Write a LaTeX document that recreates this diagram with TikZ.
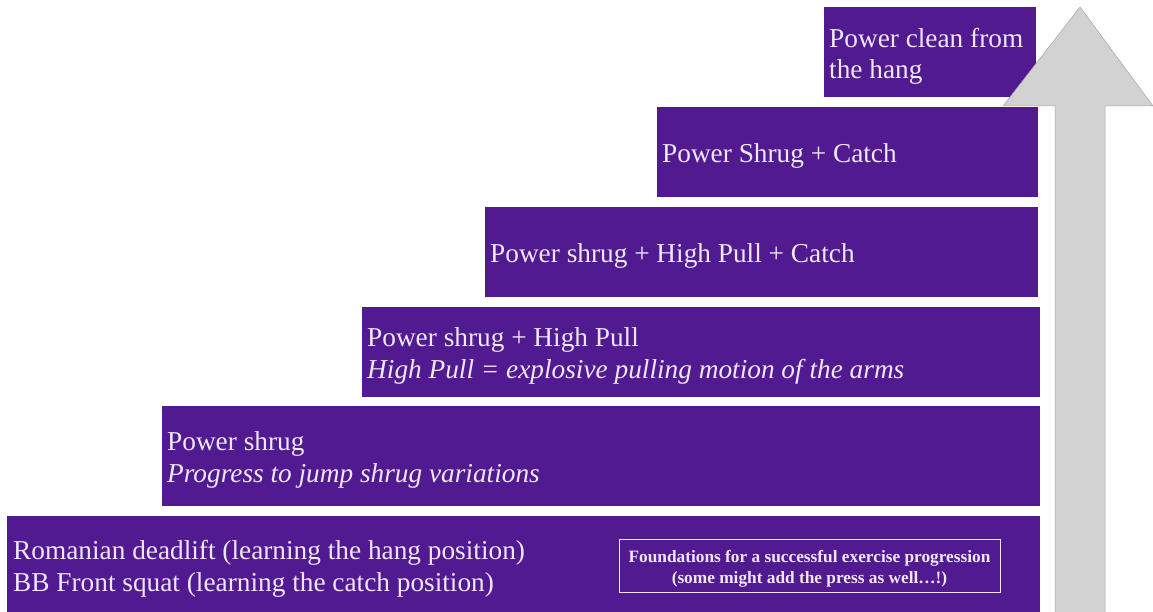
\documentclass[tikz,border=0pt]{standalone}
\usepackage{fontspec}
\setmainfont{Liberation Serif}
\begin{document}
\begin{tikzpicture}[x=1pt,y=-1pt,
  stepbox/.style={fill=boxpurple,draw=none},
  steptext/.style={anchor=west,text=txtlav,font=\fontsize{27.3}{32}\selectfont,inner sep=0pt},
  stepital/.style={steptext,font=\fontsize{27.3}{32}\selectfont\itshape}]
\definecolor{boxpurple}{HTML}{521A91}
\definecolor{txtlav}{HTML}{EEE8F6}
\definecolor{arrgray}{HTML}{D2D2D2}
\useasboundingbox (0,0) rectangle (1153,612);
% boxes
\fill[stepbox] (7,516) rectangle (1040,612);
\fill[stepbox] (162,406) rectangle (1040,506);
\fill[stepbox] (362,307) rectangle (1040,397);
\fill[stepbox] (485,207) rectangle (1038,297);
\fill[stepbox] (657,107) rectangle (1038,197);
\fill[stepbox] (824,7) rectangle (1036,97);
% arrow
\filldraw[fill=arrgray,draw=gray!70,line width=0.5pt] (1055,612) -- (1055,106) -- (1003,106) -- (1080,7) -- (1153,106) -- (1105,106) -- (1105,612);
% texts
\node[steptext] (t1a) at (13,553) {Romanian deadlift (learning the hang position)};
\node[steptext] (t1b) at (13,585) {BB Front squat (learning the catch position)};
\node[steptext] (t2a) at (167,444) {Power shrug};
\node[stepital] (t2b) at (167,476) {Progress to jump shrug variations};
\node[steptext] (t3a) at (367,340) {Power shrug + High Pull};
\node[stepital] (t3b) at (367,372) {High Pull = explosive pulling motion of the arms};
\node[steptext] (t4) at (490,256) {Power shrug + High Pull + Catch};
\node[steptext] (t5) at (662,156) {Power Shrug + Catch};
\node[steptext] (t6a) at (829,38) {Power clean from};
\node[steptext] (t6b) at (829,72) {the hang};
% foundations box
\draw[txtlav,line width=1pt] (619,539) rectangle (1000,592);
\node[text=txtlav,font=\fontsize{17.3}{21}\selectfont\bfseries,align=center,inner sep=0pt] (fnd) at (809.5,569) {Foundations for a successful exercise progression\\(some might add the press as well\ldots!)};
\end{tikzpicture}
\end{document}
